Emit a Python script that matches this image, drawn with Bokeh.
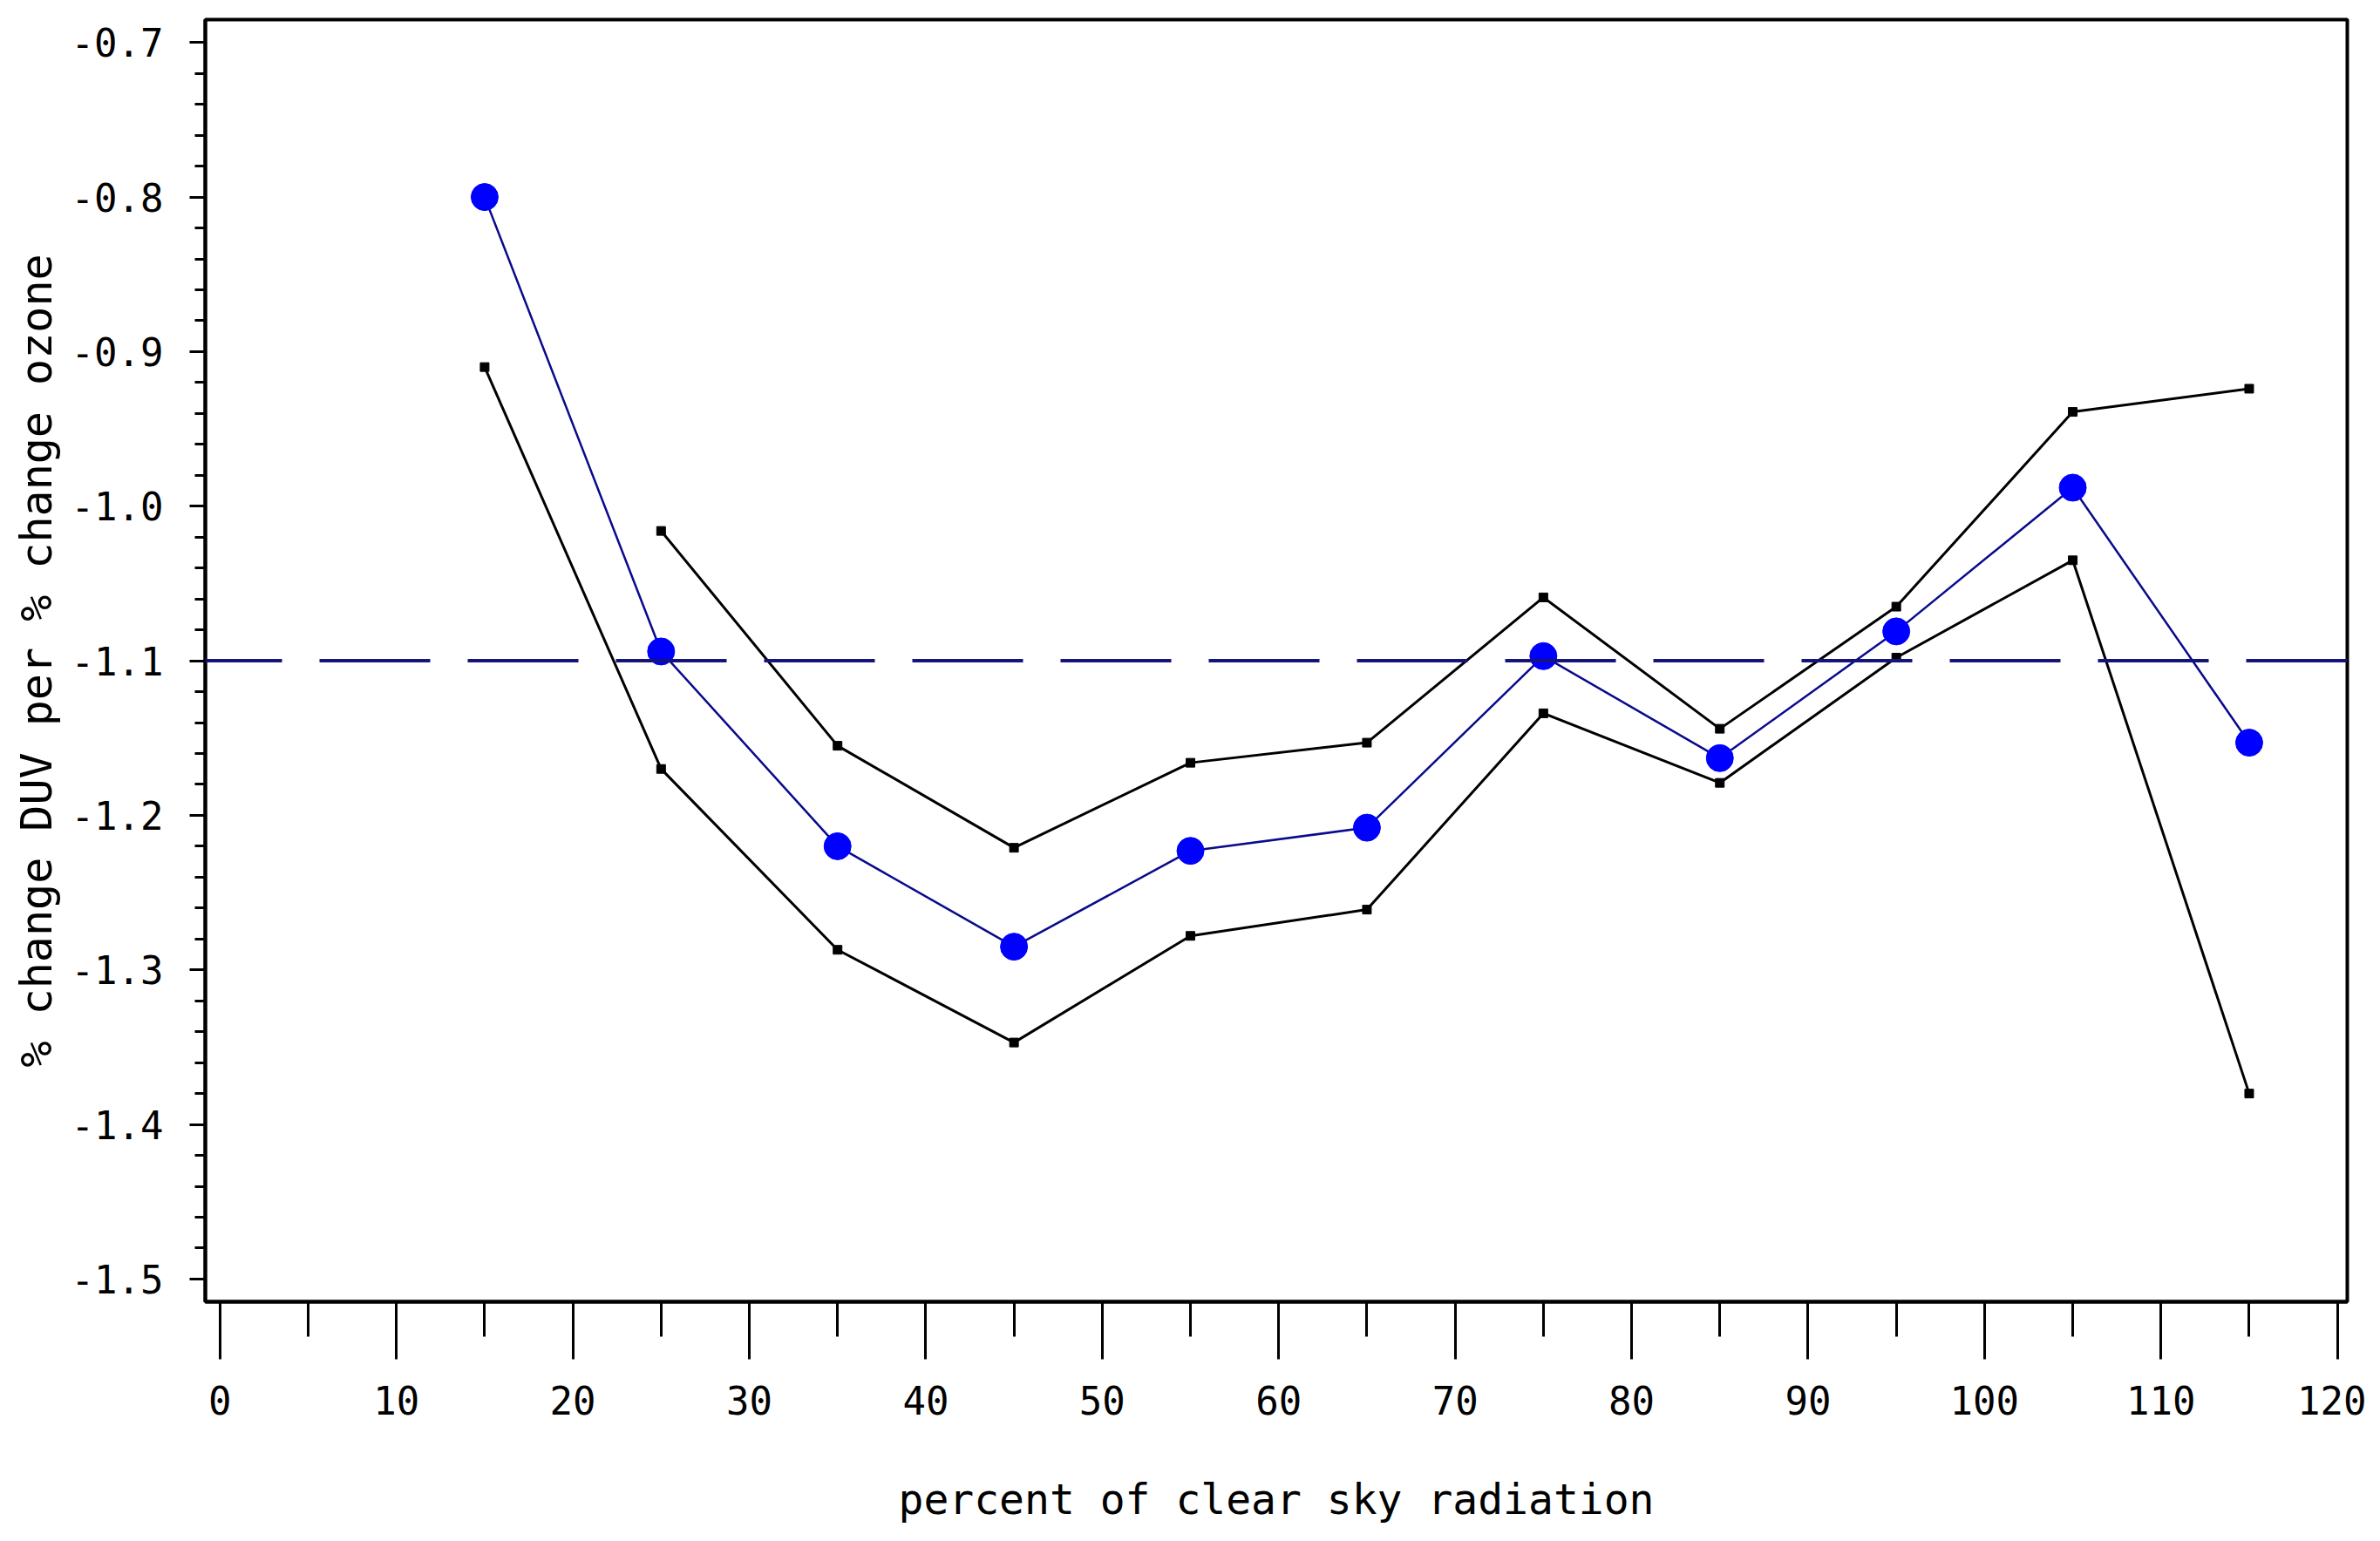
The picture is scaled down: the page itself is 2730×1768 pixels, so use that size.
from bokeh.plotting import figure
from bokeh.models import SingleIntervalTicker, PrintfTickFormatter, Span, Range1d
from bokeh.embed import file_html
from bokeh.resources import INLINE

# data
x_vals = [15, 25, 35, 45, 55, 65, 75, 85, 95, 105, 115]
mean_vals = [-0.800, -1.094, -1.220, -1.285, -1.223, -1.208, -1.097, -1.163, -1.081, -0.988, -1.153]
upper_x = [25, 35, 45, 55, 65, 75, 85, 95, 105, 115]
upper_vals = [-1.016, -1.155, -1.221, -1.166, -1.153, -1.059, -1.144, -1.065, -0.939, -0.924]
lower_x = [15, 25, 35, 45, 55, 65, 75, 85, 95, 105, 115]
lower_vals = [-0.910, -1.170, -1.287, -1.347, -1.278, -1.261, -1.134, -1.179, -1.098, -1.035, -1.380]
ref_value = -1.1

FONT = "DejaVu Sans Mono"

p = figure(width=2714, height=1752, output_backend="svg", toolbar_location=None,
           x_range=Range1d(-0.83, 120.56), y_range=Range1d(-1.5147, -0.6852),
           min_border_left=235, min_border_right=22, min_border_top=22, min_border_bottom=259)

p.background_fill_color = "white"
p.border_fill_color = "white"
p.outline_line_color = "black"
p.outline_line_width = 4
p.xgrid.visible = False
p.ygrid.visible = False

p.xaxis.ticker = SingleIntervalTicker(interval=10, num_minor_ticks=2)
p.yaxis.ticker = SingleIntervalTicker(interval=0.1, num_minor_ticks=5)
p.yaxis.formatter = PrintfTickFormatter(format="%.1f")

for ax in (p.xaxis[0], p.yaxis[0]):
    ax.axis_line_color = "black"
    ax.axis_line_width = 4
    ax.major_tick_line_color = "black"
    ax.minor_tick_line_color = "black"
    ax.major_tick_line_width = 3
    ax.minor_tick_line_width = 3
    ax.major_tick_in = 0
    ax.minor_tick_in = 0
    ax.major_label_text_font = FONT
    ax.major_label_text_font_size = "44px"
    ax.major_label_text_color = "black"
    ax.axis_label_text_font = FONT
    ax.axis_label_text_font_style = "normal"
    ax.axis_label_text_color = "black"

p.xaxis.major_tick_out = 66
p.xaxis.minor_tick_out = 40
p.xaxis.major_label_standoff = 30
p.xaxis.axis_label = "percent of clear sky radiation"
p.xaxis.axis_label_text_font_size = "48px"
p.xaxis.axis_label_standoff = 66

p.yaxis.major_tick_out = 18
p.yaxis.minor_tick_out = 12
p.yaxis.major_label_standoff = 30
p.yaxis.axis_label = "% change DUV per % change ozone"
p.yaxis.axis_label_text_font_size = "50px"
p.yaxis.axis_label_standoff = 8

ref = Span(location=ref_value, dimension="width", line_color="#14147a", line_width=4,
           line_dash="127 43", line_dash_offset=39)
p.add_layout(ref)

p.line(lower_x, lower_vals, line_color="black", line_width=3)
p.scatter(lower_x, lower_vals, marker="square", size=10, fill_color="black", line_color="black")
p.line(upper_x, upper_vals, line_color="black", line_width=3)
p.scatter(upper_x, upper_vals, marker="square", size=10, fill_color="black", line_color="black")

p.line(x_vals, mean_vals, line_color="#0a0a8c", line_width=2.5)
p.scatter(x_vals, mean_vals, marker="circle", size=31, fill_color="#0000ff", line_color="#0000ff")

open("out.html", "w").write(file_html(p, INLINE))
